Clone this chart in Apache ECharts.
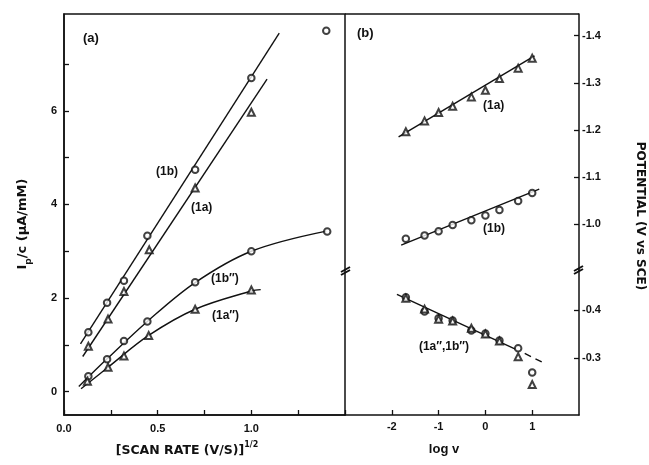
<!DOCTYPE html>
<html><head><meta charset="utf-8">
<script src="https://cdn.jsdelivr.net/npm/echarts@6/dist/echarts.min.js"></script>
<style>html,body{margin:0;padding:0;background:#fff}#c{width:649px;height:465px}</style>
</head><body><div id="c"></div>
<script>
// ---------- panel (a): Ip/c vs sqrt(scan rate) ----------
const x1b = [0.13, 0.23, 0.32, 0.445, 0.70, 1.0, 1.40];
const y1b = [1.27, 1.90, 2.37, 3.33, 4.74, 6.70, 7.71];
const x1a = [0.13, 0.235, 0.32, 0.455, 0.70, 1.0];
const y1a = [0.97, 1.55, 2.14, 3.03, 4.35, 5.97];
const x1bpp = [0.13, 0.23, 0.32, 0.445, 0.70, 1.0, 1.405];
const y1bpp = [0.33, 0.69, 1.08, 1.50, 2.335, 3.0, 3.42];
const x1app = [0.125, 0.235, 0.32, 0.452, 0.70, 1.0];
const y1app = [0.22, 0.52, 0.76, 1.20, 1.76, 2.17];
// fitted lines / curves
const fit1b = [[0.088, 1.02], [1.149, 7.66]];
const fit1a = [[0.100, 0.75], [1.084, 6.68]];
const curve1bpp = [[0.079, 0.11], [0.23, 0.70], [0.445, 1.50], [0.70, 2.33], [1.0, 3.0], [1.40, 3.43]];
const curve1app = [[0.091, 0.06], [0.235, 0.52], [0.452, 1.20], [0.70, 1.76], [1.0, 2.15], [1.05, 2.18]];
const xTicksA = [0, 0.25, 0.5, 0.75, 1.0, 1.25, 1.5];
const xLabelsA = [0, 0.5, 1.0];
const yTicksA = [0, 1, 2, 3, 4, 5, 6, 7];
const yLabelsA = [0, 2, 4, 6];

// ---------- panel (b): potential vs log v ----------
const logV = [-1.7, -1.3, -1.0, -0.7, -0.3, 0, 0.3, 0.7, 1.0];
const pot1a = [-1.196, -1.219, -1.237, -1.250, -1.270, -1.284, -1.309, -1.331, -1.352];
const pot1b = [-0.969, -0.976, -0.985, -0.998, -1.008, -1.018, -1.030, -1.049, -1.066];
const pot1bpp = [-0.427, -0.397, -0.383, -0.378, -0.357, -0.351, -0.336, -0.320, -0.269];
const pot1app = [-0.425, -0.402, -0.381, -0.377, -0.362, -0.350, -0.335, -0.302, -0.244];
const fitR1a = [[-1.855, -1.185], [1.05, -1.357]];
const fitR1b = [[-1.80, -0.9555], [1.15, -1.074]];
const fitRpp = [[-1.89, -0.433], [0.64, -0.318]];
const fitRppDash = [[0.84, -0.309], [1.27, -0.288]];
const xTicksB = [-2, -1, 0, 1];
const yTicksBUpper = [-1.4, -1.3, -1.2, -1.1, -1.0];
const yTicksBLower = [-0.4, -0.3];

const zip = (xs, ys) => xs.map((x, i) => [x, ys[i]]);
const FONT = 'Liberation Sans';
const WIDE = 'DejaVu Sans';
const lab = {color: '#111', fontFamily: FONT, fontWeight: 'bold', fontSize: 11};
const axLine = {show: true, onZero: false, lineStyle: {color: '#111', width: 1.5}};
const tick = (vals) => ({show: true, inside: true, length: 5, customValues: vals, lineStyle: {color: '#111', width: 1.3}});

const chart = echarts.init(document.getElementById('c'), null, {renderer: 'canvas'});

function scatter(name, xi, yi, data, sym, size) {
  return {name, type: 'scatter', xAxisIndex: xi, yAxisIndex: yi, data, symbol: sym, symbolSize: size,
    itemStyle: {color: '#111', borderColor: '#111', borderWidth: 1.3}, z: 5, silent: true};
}
function line(name, xi, yi, data, opts) {
  return Object.assign({name, type: 'line', xAxisIndex: xi, yAxisIndex: yi, data, showSymbol: false,
    lineStyle: {color: '#111', width: 1.4}, z: 3, silent: true}, opts || {});
}
const T = (text, x, y, size, align) => ({type: 'text', style: {text, x, y, textAlign: align || 'left',
  textVerticalAlign: 'middle', font: 'bold ' + size + 'px ' + FONT, fill: '#111'}});

const option = {
  animation: false,
  backgroundColor: '#fff',
  grid: [
    {left: 64, top: 14, width: 281, height: 401, show: true, borderColor: '#111', borderWidth: 1.5, backgroundColor: 'transparent'},
    {left: 345, top: 14, width: 234, height: 256},
    {left: 345, top: 270, width: 234, height: 145}
  ],
  xAxis: [
    {gridIndex: 0, type: 'value', min: 0, max: 1.5, axisLine: axLine, splitLine: {show: false},
      axisTick: tick(xTicksA),
      axisLabel: Object.assign({customValues: xLabelsA, formatter: v => v.toFixed(1), margin: 8}, lab)},
    {gridIndex: 1, type: 'value', min: -3, max: 2, show: false},
    {gridIndex: 2, type: 'value', min: -3, max: 2, axisLine: axLine, splitLine: {show: false},
      axisTick: tick(xTicksB),
      axisLabel: Object.assign({customValues: xTicksB, formatter: v => String(v), margin: 6}, lab)}
  ],
  yAxis: [
    {gridIndex: 0, type: 'value', min: -0.5, max: 8.07, axisLine: axLine, splitLine: {show: false},
      axisTick: tick(yTicksA),
      axisLabel: Object.assign({customValues: yLabelsA, margin: 7}, lab)},
    {gridIndex: 1, type: 'value', position: 'right', inverse: true, min: -1.446, max: -0.9025,
      axisLine: axLine, splitLine: {show: false}, axisTick: tick(yTicksBUpper),
      axisLabel: Object.assign({customValues: yTicksBUpper, formatter: v => v.toFixed(1), margin: 3}, lab)},
    {gridIndex: 2, type: 'value', position: 'right', inverse: true, min: -0.484, max: -0.180,
      axisLine: axLine, splitLine: {show: false}, axisTick: tick(yTicksBLower),
      axisLabel: Object.assign({customValues: yTicksBLower, formatter: v => v.toFixed(1), margin: 3}, lab)}
  ],
  series: [
    line('fit 1b', 0, 0, fit1b),
    line('fit 1a', 0, 0, fit1a),
    line('curve 1b″', 0, 0, curve1bpp, {smooth: 0.35}),
    line('curve 1a″', 0, 0, curve1app, {smooth: 0.35}),
    scatter('1b', 0, 0, zip(x1b, y1b), 'emptyCircle', 6.5),
    scatter('1a', 0, 0, zip(x1a, y1a), 'emptyTriangle', 7),
    scatter('1b″', 0, 0, zip(x1bpp, y1bpp), 'emptyCircle', 6.5),
    scatter('1a″', 0, 0, zip(x1app, y1app), 'emptyTriangle', 7),
    line('fitR 1a', 1, 1, fitR1a),
    line('fitR 1b', 1, 1, fitR1b),
    scatter('R 1a', 1, 1, zip(logV, pot1a), 'emptyTriangle', 7),
    scatter('R 1b', 1, 1, zip(logV, pot1b), 'emptyCircle', 6.5),
    line('fitR pp', 2, 2, fitRpp),
    line('fitR pp dash', 2, 2, fitRppDash, {lineStyle: {color: '#111', width: 1.4, type: [7, 5]}}),
    scatter('R 1b″', 2, 2, zip(logV, pot1bpp), 'emptyCircle', 6.5),
    scatter('R 1a″', 2, 2, zip(logV, pot1app), 'emptyTriangle', 7)
  ],
  graphic: [
    {type: 'line', shape: {x1: 345, y1: 14, x2: 579, y2: 14}, style: {stroke: '#111', lineWidth: 1.5}},
    // axis break marks
    {type: 'line', shape: {x1: 341, y1: 272, x2: 350, y2: 267}, style: {stroke: '#111', lineWidth: 2}},
    {type: 'line', shape: {x1: 341, y1: 275, x2: 350, y2: 270}, style: {stroke: '#111', lineWidth: 2}},
    {type: 'line', shape: {x1: 574, y1: 271, x2: 583, y2: 266}, style: {stroke: '#111', lineWidth: 2}},
    {type: 'line', shape: {x1: 574, y1: 274, x2: 583, y2: 269}, style: {stroke: '#111', lineWidth: 2}},
    // panel & series labels
    T('(a)', 83, 38, 13), T('(b)', 357, 33, 13),
    T('(1b)', 156, 172, 12), T('(1a)', 191, 208, 12),
    T('(1b″)', 211, 279, 12), T('(1a″)', 212, 316, 12),
    T('(1a)', 483, 106, 12), T('(1b)', 483, 229, 12),
    T('(1a″,1b″)', 444, 347, 12, 'center'),
    // axis titles
    {type: 'text', x: 21, y: 224, rotation: Math.PI / 2,
      style: {text: '{a|I}{b|p}{a|/c (μA/mM)}', textAlign: 'center', textVerticalAlign: 'middle',
        rich: {a: {font: 'bold 13px ' + WIDE, fill: '#111', lineHeight: 16, verticalAlign: 'bottom'},
               b: {font: 'bold 9px ' + WIDE, fill: '#111', lineHeight: 16, verticalAlign: 'bottom', padding: [0, 0, -4, 0]}}}},
    {type: 'text', x: 640, y: 216, rotation: -Math.PI / 2,
      style: {text: 'POTENTIAL (V vs SCE)', textAlign: 'center', textVerticalAlign: 'middle', font: 'bold 12px ' + WIDE, fill: '#111'}},
    {type: 'text', x: 187, y: 449,
      style: {text: '{a|[SCAN RATE (V/S)]}{b|1/2}', textAlign: 'center', textVerticalAlign: 'middle',
        rich: {a: {font: 'bold 12.5px ' + WIDE, fill: '#111', lineHeight: 16, verticalAlign: 'bottom'},
               b: {font: 'bold 8px ' + WIDE, fill: '#111', lineHeight: 16, verticalAlign: 'top'}}}},
    {type: 'text', x: 444, y: 449,
      style: {text: 'log v', textAlign: 'center', textVerticalAlign: 'middle', font: 'bold 13px ' + FONT, fill: '#111'}}
  ]
};
chart.setOption(option);
</script></body></html>
